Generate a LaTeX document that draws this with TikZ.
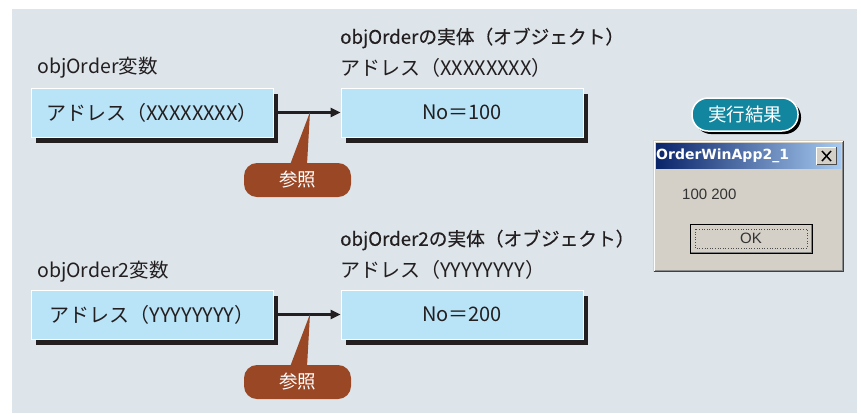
\documentclass[tikz,border=0pt]{standalone}
\usepackage{fontspec}
\setmainfont{Noto Sans CJK JP}
\newfontfamily\semib[FakeBold=0.3]{Noto Sans CJK JP}
\newfontfamily\winfont{Liberation Sans}
\newfontfamily\titlefont{DejaVu Sans}
\usetikzlibrary{arrows.meta,shadows}
\definecolor{panelbg}{HTML}{DDE5EA}
\definecolor{boxfill}{HTML}{B9E3F7}
\definecolor{callbrown}{HTML}{9A4725}
\definecolor{badgeteal}{HTML}{13869F}
\definecolor{winbg}{HTML}{D4D0C8}
\definecolor{tbleft}{HTML}{0A246A}
\definecolor{tbright}{HTML}{A6CAF0}
\definecolor{txt}{HTML}{231F20}
\tikzset{
  lbl/.style={anchor=west, inner sep=0pt, text=txt, font=\fontsize{19.5}{23}\selectfont},
  addr/.style={anchor=west, inner sep=0pt, text=txt, font=\fontsize{20}{24}\selectfont},
  ttl/.style={anchor=west, inner sep=0pt, text=txt, font=\semib\fontsize{18.7}{23}\selectfont},
  valbox/.style={fill=boxfill, draw=white, line width=0.8pt, minimum width=242pt, minimum height=49pt,
     inner sep=0pt, text=txt, font=\fontsize{20}{24}\selectfont,
     drop shadow={shadow xshift=4.5pt, shadow yshift=-5.5pt, fill=txt, opacity=1}},
  refarrow/.style={line width=2.4pt, draw=txt, -{Triangle[length=10pt,width=9pt]}},
  callout/.style={fill=callbrown, rounded corners=13pt, minimum width=107pt, minimum height=34pt,
     inner sep=0pt, text=white, font=\fontsize{18.5}{22}\selectfont},
}
\begin{document}
\begin{tikzpicture}[x=1pt,y=-1pt]
\useasboundingbox (0,0) rectangle (861,413);
\fill[white] (0,0) rectangle (861,413);
\fill[panelbg] (12,9) rectangle (857,413);

% ---------- first pair ----------
\node[lbl] (l1) at (37,68) {objOrder変数};
\node[ttl] (t1) at (340,38) {objOrderの実体（オブジェクト）};
\node[addr] (a1) at (340,68) {アドレス（XXXXXXXX）};
\node[valbox] (v1) at (152,112.5) {アドレス（XXXXXXXX）};
\node[valbox] (o1) at (462,112.5) {No＝100};
\draw[refarrow] ([xshift=4pt]v1.east) -- (o1.west);
\coordinate (p1) at (310,112);
\node[callout] (c1) at (297.5,180) {参照};
\fill[callbrown] ([xshift=-7.5pt,yshift=-2pt]c1.north) -- (p1) -- ([xshift=9.5pt,yshift=-2pt]c1.north) -- cycle;

% ---------- second pair ----------
\node[lbl] (l2) at (37,272) {objOrder2変数};
\node[ttl] (t2) at (340,240) {objOrder2の実体（オブジェクト）};
\node[addr] (a2) at (340,270) {アドレス（YYYYYYYY）};
\node[valbox] (v2) at (152,314.5) {アドレス（YYYYYYYY）};
\node[valbox] (o2) at (462,314.5) {No＝200};
\draw[refarrow] ([xshift=4pt]v2.east) -- (o2.west);
\coordinate (p2) at (310,314);
\node[callout] (c2) at (297.5,382) {参照};
\fill[callbrown] ([xshift=-7.5pt,yshift=-2pt]c2.north) -- (p2) -- ([xshift=9.5pt,yshift=-2pt]c2.north) -- cycle;

% ---------- result badge ----------
\node[fill=badgeteal, draw=white, line width=1.5pt, rounded corners=16pt, minimum width=106pt,
  minimum height=33pt, inner sep=0pt, text=white, font=\fontsize{18.5}{22}\selectfont,
  drop shadow={shadow xshift=3pt, shadow yshift=-3pt, fill=black, opacity=1}] (res) at (745,114.5) {実行結果};

% ---------- window ----------
\fill[winbg] (653,140) rectangle (844,272);
\draw[white, line width=1pt] (654,271) -- (654,141) -- (843,141);
\draw[black!75, line width=1pt] (654,271.5) -- (843.5,271.5) -- (843.5,140.5);
\draw[black!45, line width=1pt] (655,270) -- (842,270) -- (842,142);
\shade[left color=tbleft, right color=tbright] (656,143) rectangle (841,168);
\node[anchor=west, inner sep=0pt, text=white, font=\titlefont\bfseries\fontsize{14}{16}\selectfont] (wt) at (656,156) {OrderWinApp2\_1};
\fill[winbg] (816,147) rectangle (837,165);
\draw[white, line width=1pt] (816.5,165) -- (816.5,147.5) -- (837,147.5);
\draw[black!70, line width=1pt] (816.5,164.5) -- (836.5,164.5) -- (836.5,147);
\draw[black, line width=1.5pt] (822,151) -- (831,161) (831,151) -- (822,161);
\node[anchor=west, inner sep=0pt, text=black!80, font=\winfont\fontsize{15}{17}\selectfont] (msg) at (682,194) {100 200};
\node[draw=black, line width=1pt, fill=winbg, minimum width=122pt, minimum height=29pt, inner sep=0pt,
  text=black!80, font=\winfont\fontsize{15}{17}\selectfont] (ok) at (751,238.5) {OK};
\draw[black!70, line width=0.6pt, dotted] (695,229) rectangle (807,248);
\draw[black!50, line width=0.8pt] (691,252) -- (811,252) -- (811,225);
\end{tikzpicture}
\end{document}
